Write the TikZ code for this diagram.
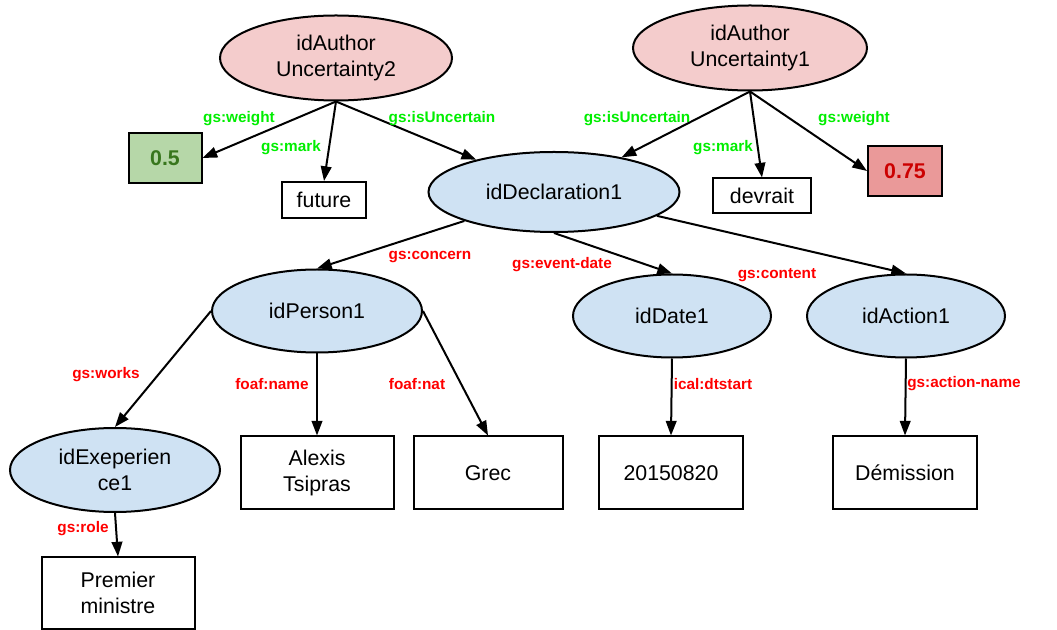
\documentclass[tikz,border=0pt]{standalone}
\usepackage{fontspec}
\setmainfont{Liberation Sans}
\usepackage{xcolor}
\usetikzlibrary{arrows.meta,shapes.geometric}
\definecolor{uncfill}{HTML}{F4CCCC}
\definecolor{resfill}{HTML}{CFE2F3}
\definecolor{lowfill}{HTML}{B6D7A8}
\definecolor{lowtext}{HTML}{38761D}
\definecolor{highfill}{HTML}{EA9999}
\definecolor{hightext}{HTML}{CC0000}
\definecolor{propred}{HTML}{FF0000}
\definecolor{propgreen}{HTML}{00EE00}

\begin{document}
\begin{tikzpicture}[x=0.75pt, y=-0.75pt,
  every node/.style={font=\fontsize{16}{19}\selectfont},
  res/.style={ellipse, draw, line width=1.5pt, fill=resfill, inner sep=0pt, align=center},
  unc/.style={res, fill=uncfill},
  lit/.style={rectangle, draw, line width=1.5pt, fill=white, inner sep=0pt, align=center},
  edge/.style={line width=1.5pt, -{Triangle[length=11pt,width=8pt]}},
  prop/.style={font=\fontsize{11.5}{13}\selectfont\bfseries, text=propred},
  uprop/.style={prop, text=propgreen}]
\useasboundingbox (0,0) rectangle (1057,630);
%\draw[very thin, color=gray, step=50] (0,0) grid (1057,630);
%----------------------------------------
\node[unc, minimum width=174pt, minimum height=63.75pt] (au2) at (336,58) {idAuthor\\Uncertainty2};
\node[unc, minimum width=175.5pt, minimum height=63.75pt] (au1) at (750,48) {idAuthor\\Uncertainty1};
\node[lit, fill=lowfill, text=lowtext, font=\fontsize{16}{19}\selectfont\bfseries, minimum width=54.75pt, minimum height=37.5pt] (w2) at (165,158) {0.5};
\node[lit, minimum width=63pt, minimum height=27pt] (future) at (324,200) {future};
\node[lit, minimum width=73.5pt, minimum height=26.25pt] (devrait) at (762,196) {devrait};
\node[lit, fill=highfill, text=hightext, font=\fontsize{16}{19}\selectfont\bfseries, minimum width=55.5pt, minimum height=37.5pt] (w1) at (905,171) {0.75};
%----------------------------------------
\node[res, minimum width=188.25pt, minimum height=60pt] (decl) at (554,192) {idDeclaration1};
\node[res, minimum width=157.5pt, minimum height=62.25pt] (person) at (317,311) {idPerson1};
\node[res, minimum width=148.5pt, minimum height=62.25pt] (date) at (672,316) {idDate1};
\node[res, minimum width=148.5pt, minimum height=62.25pt] (action) at (906,316) {idAction1};
\node[res, minimum width=157.5pt, minimum height=63pt] (exp) at (115,470) {idExeperien\\ce1};
%----------------------------------------
\node[lit, minimum width=114.75pt, minimum height=54.75pt] (name) at (317,473) {Alexis\\Tsipras};
\node[lit, minimum width=111.75pt, minimum height=54.75pt] (nat) at (488,473) {Grec};
\node[lit, minimum width=108pt, minimum height=54.75pt] (start) at (671,473) {20150820};
\node[lit, minimum width=108pt, minimum height=54.75pt] (demission) at (905,473) {Démission};
\node[lit, minimum width=114.75pt, minimum height=53.25pt] (role) at (118,593) {Premier\\ministre};
%----------------------------------------
\draw[edge] (au2.south) -- (w2.east);
\draw[edge] (au2.south) -- (future.north);
\draw[edge] (au2.south) -- (decl);
\draw[edge] (au1.south) -- (decl);
\draw[edge] (au1.south) -- (devrait.north);
\draw[edge] (au1.south) -- (w1.west);
\draw[edge] (decl) -- (person.north);
\draw[edge] (decl.south) -- (date.north);
\draw[edge] (decl) -- (action.north);
\draw[edge] (person.west) -- (exp.north);
\draw[edge] (person.south) -- (name.north);
\draw[edge] (person.east) -- (nat.north);
\draw[edge] (exp.south) -- (role.north);
\draw[edge] (date.south) -- (start.north);
\draw[edge] (action.south) -- (demission.north);
%----------------------------------------
\node[uprop] (lweight2) at (239,119) {gs:weight};
\node[uprop] (lmark2) at (291,148) {gs:mark};
\node[uprop] (lunc2) at (442,119) {gs:isUncertain};
\node[uprop] (lunc1) at (637,119) {gs:isUncertain};
\node[uprop] (lmark1) at (723,148) {gs:mark};
\node[uprop] (lweight1) at (854,119) {gs:weight};
\node[prop] (lconcern) at (430,257) {gs:concern};
\node[prop] (levent) at (562,265) {gs:event-date};
\node[prop] (lcontent) at (777,275) {gs:content};
\node[prop] (lworks) at (106,375) {gs:works};
\node[prop] (lname) at (272,384) {foaf:name};
\node[prop] (lnat) at (417,384) {foaf:nat};
\node[prop] (ldtstart) at (713,384) {ical:dtstart};
\node[prop] (laction) at (964,384) {gs:action-name};
\node[prop] (lrole) at (83,529) {gs:role};
\end{tikzpicture}
\end{document}
